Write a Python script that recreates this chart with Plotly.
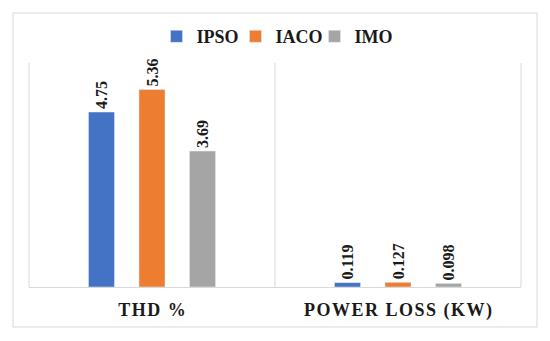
import plotly.graph_objects as go

categories = ["THD %", "POWER LOSS (KW)"]
series_names = ["IPSO", "IACO", "IMO"]
ipso = [4.75, 0.119]
iaco = [5.36, 0.127]
imo = [3.69, 0.098]
labels_ipso = ["4.75", "0.119"]
labels_iaco = ["5.36", "0.127"]
labels_imo = ["3.69", "0.098"]
colors = ["#4472C4", "#ED7D31", "#A5A5A5"]

HS = "\u200a"
def spaced(s):
    return HS.join(list(s))

cat_disp = [spaced(c) for c in categories]

fig = go.Figure()
for name, vals, labs, col in zip(series_names, [ipso, iaco, imo],
                                 [labels_ipso, labels_iaco, labels_imo], colors):
    fig.add_trace(go.Bar(
        name=name, x=cat_disp, y=vals, marker_color=col,
        text=labs, textposition="outside", textangle=-90, constraintext="none",
        textfont=dict(family="Liberation Serif", size=16, color="#1a1a1a", weight="bold"),
        cliponaxis=False,
    ))

grid = "#d9d9d9"
shapes = [
    dict(type="rect", xref="paper", yref="paper", x0=-0.0325, x1=1.0325,
         y0=-0.181, y1=1.2398, line=dict(color=grid, width=1), fillcolor="rgba(0,0,0,0)"),
]
for xp in [0, 0.5, 1]:
    shapes.append(dict(type="line", xref="paper", yref="paper", x0=xp, x1=xp,
                       y0=0, y1=1.0136, line=dict(color=grid, width=1)))

fig.update_layout(
    width=550, height=341,
    margin=dict(l=21, r=37, t=58, b=62, autoexpand=False),
    paper_bgcolor="white", plot_bgcolor="white",
    barmode="group", bargap=0.384, bargroupgap=0.485,
    font=dict(family="Liberation Serif", color="#1a1a1a"),
    showlegend=True,
    legend=dict(orientation="h", x=0.5, xanchor="center", y=1.133, yanchor="middle",
                font=dict(size=18, family="Liberation Serif", weight="bold", color="#1a1a1a"),
                itemwidth=30, entrywidth=34, tracegroupgap=0),
    xaxis=dict(showline=True, linecolor=grid, linewidth=1, showgrid=False,
               ticks="", ticklabelstandoff=6,
               tickfont=dict(size=18, family="Liberation Serif", weight="bold", color="#1a1a1a")),
    yaxis=dict(range=[0, 6], showgrid=False, showticklabels=False, zeroline=False,
               showline=False),
    shapes=shapes,
)

fig.write_html("out.html")
